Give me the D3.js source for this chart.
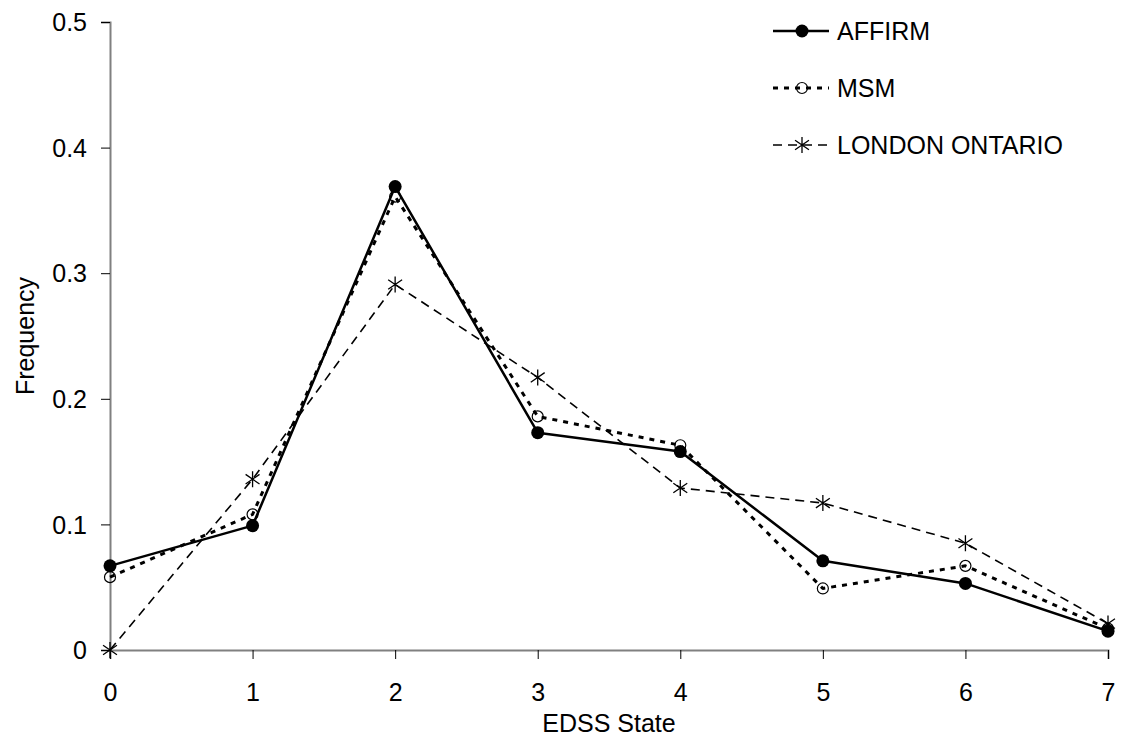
<!DOCTYPE html>
<html>
<head>
<meta charset="utf-8">
<script src="https://cdn.jsdelivr.net/npm/d3@7"></script>
<style>
  html, body { margin: 0; padding: 0; background: #fff; }
  svg { display: block; font-family: "Liberation Sans", Arial, sans-serif; }
</style>
</head>
<body>
<svg id="chart" width="1123" height="736"></svg>
<script>
// EDSS states and observed frequencies per cohort
const states = [0, 1, 2, 3, 4, 5, 6, 7];
const affirm = [0.067, 0.099, 0.369, 0.173, 0.158, 0.071, 0.053, 0.015];
const msm = [0.058, 0.108, 0.361, 0.186, 0.163, 0.049, 0.067, 0.017];
const londonOntario = [0.0, 0.136, 0.291, 0.217, 0.129, 0.117, 0.085, 0.021];
const yTicks = [0, 0.1, 0.2, 0.3, 0.4, 0.5];
const seriesNames = ["AFFIRM", "MSM", "LONDON ONTARIO"];

const svg = d3.select("#chart");
const x = d3.scaleLinear().domain([0, 7]).range([110, 1108]);
const y = d3.scaleLinear().domain([0, 0.5]).range([650, 22]);

const axisColor = "#808080";
const fontSize = 25;

// Axes
const xAxis = svg.append("g").attr("transform", `translate(0,${y(0)})`)
  .call(d3.axisBottom(x).tickValues(states).tickSize(9).tickFormat(d3.format("d")));
const yAxis = svg.append("g").attr("transform", `translate(${x(0)},0)`)
  .call(d3.axisLeft(y).tickValues(yTicks).tickSize(9).tickFormat(d => d === 0 ? "0" : d3.format(".1f")(d)));

[xAxis, yAxis].forEach(g => {
  g.select(".domain").attr("stroke", axisColor).attr("stroke-width", 2);
  g.selectAll(".tick line").attr("stroke", "#000").attr("stroke-width", 1);
  g.selectAll(".tick text").attr("fill", "#000").attr("font-size", fontSize)
    .attr("font-family", "Liberation Sans, Arial, sans-serif");
});
xAxis.selectAll(".tick text").attr("dy", "0").attr("y", 51);
yAxis.selectAll(".tick text").attr("x", -23).attr("dy", "0.35em");

// Axis titles
svg.append("text").attr("x", (x(0) + x(7)) / 2).attr("y", 732)
  .attr("text-anchor", "middle").attr("font-size", fontSize).text("EDSS State");
svg.append("text").attr("transform", `translate(34,${(y(0) + y(0.5)) / 2}) rotate(-90)`)
  .attr("text-anchor", "middle").attr("font-size", fontSize).text("Frequency");

// Series styling
const series = [
  { name: seriesNames[0], values: affirm, width: 2.5, dash: null, marker: "dot" },
  { name: seriesNames[1], values: msm, width: 3, dash: "5,6", marker: "ring" },
  { name: seriesNames[2], values: londonOntario, width: 1.6, dash: "9,6", marker: "star" }
];

const line = d3.line().x((d, i) => x(states[i])).y(d => y(d));

function drawMarker(g, type, cx, cy) {
  if (type === "dot") {
    g.append("circle").attr("cx", cx).attr("cy", cy).attr("r", 6.5).attr("fill", "#000");
  } else if (type === "ring") {
    g.append("circle").attr("cx", cx).attr("cy", cy).attr("r", 5.5)
      .attr("fill", "none").attr("stroke", "#000").attr("stroke-width", 1.2);
  } else {
    const r = 8;
    const path = d3.path();
    path.moveTo(cx, cy - r); path.lineTo(cx, cy + r);
    path.moveTo(cx - r * 0.87, cy - r * 0.6); path.lineTo(cx + r * 0.87, cy + r * 0.6);
    path.moveTo(cx - r * 0.87, cy + r * 0.6); path.lineTo(cx + r * 0.87, cy - r * 0.6);
    g.append("path").attr("d", path.toString()).attr("stroke", "#000").attr("stroke-width", 1.3).attr("fill", "none");
  }
}

// Draw lines from the back (London) to the front (AFFIRM)
series.slice().reverse().forEach(s => {
  const g = svg.append("g");
  g.append("path").datum(s.values).attr("d", line)
    .attr("fill", "none").attr("stroke", "#000").attr("stroke-width", s.width)
    .attr("stroke-dasharray", s.dash).attr("stroke-linejoin", "round");
  s.values.forEach((v, i) => drawMarker(g, s.marker, x(states[i]), y(v)));
});

// Legend
const legendRows = [31, 88, 145];
series.forEach((s, i) => {
  const g = svg.append("g");
  const ly = legendRows[i];
  g.append("line").attr("x1", 773).attr("x2", 829).attr("y1", ly).attr("y2", ly)
    .attr("stroke", "#000").attr("stroke-width", s.width).attr("stroke-dasharray", s.dash);
  drawMarker(g, s.marker, 802, ly);
  g.append("text").attr("x", 837).attr("y", ly).attr("dy", "0.35em")
    .attr("font-size", fontSize).text(s.name);
});
</script>
</body>
</html>
